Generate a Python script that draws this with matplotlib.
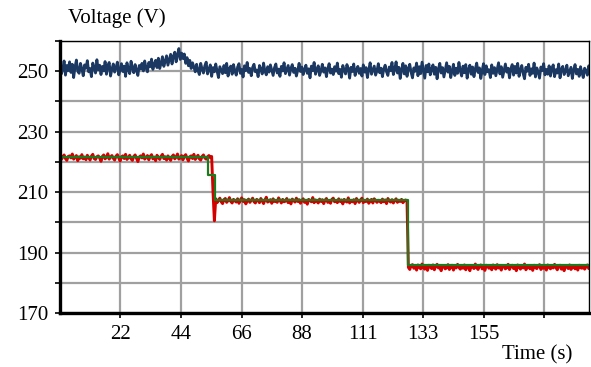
import numpy as np
import matplotlib
matplotlib.use("Agg")
import matplotlib.pyplot as plt

sample_step = 0.5

blue_v = [
    252.8, 249.1, 250.6, 253.4, 248.7, 251.9, 250.2, 253.1, 249.6, 252.3, 247.9, 251.4, 253.7, 250.0, 249.3, 252.6, 250.8, 248.5, 252.1, 251.0,
    253.5, 249.8, 250.9, 248.2, 252.7, 251.3, 249.4, 253.8, 250.5, 252.0, 248.9, 251.6, 250.1, 253.2, 249.0, 251.8, 252.9, 248.4, 250.7, 252.4,
    249.7, 251.2, 253.0, 248.8, 250.4, 252.5, 249.9, 251.7, 248.3, 252.8, 250.6, 249.2, 253.3, 251.1, 249.5, 252.2, 250.3, 248.6, 251.9, 250.8,
    252.6, 250.1, 253.4, 251.0, 249.8, 252.9, 251.5, 254.0, 250.6, 252.3, 253.6, 251.2, 254.3, 250.9, 252.7, 254.8, 251.6, 253.2, 255.1, 252.0,
    253.8, 255.6, 252.4, 254.9, 256.3, 253.1, 255.4, 257.5, 253.9, 256.0, 254.2, 255.7, 252.6, 254.5, 251.8, 253.6, 250.9, 252.8, 251.4, 249.8,
    252.3, 250.2, 248.9, 252.6, 250.7, 249.4, 251.8, 253.0, 249.1, 250.5, 252.1, 248.3, 251.2, 249.8, 252.4, 250.0, 247.9, 251.5, 250.3, 249.2,
    251.9, 249.5, 252.6, 248.4, 250.8, 251.7, 249.0, 252.2, 250.1, 248.7, 251.4, 252.5, 249.3, 250.6, 248.1, 251.8, 250.2, 252.9, 249.6, 250.9,
    248.5, 251.3, 252.3, 249.8, 250.4, 248.2, 251.9, 250.6, 249.1, 252.7, 250.0, 248.8, 251.5, 249.7, 252.1, 250.3, 248.6, 251.2, 252.4, 249.4,
    250.7, 248.3, 251.6, 250.1, 252.8, 249.2, 250.5, 251.9, 248.7, 250.9, 252.2, 249.6, 251.0, 248.4, 250.3, 252.6, 249.9, 251.4, 248.9, 250.6,
    252.0, 249.3, 250.8, 247.8, 251.7, 250.2, 252.9, 249.0, 250.5, 251.8, 248.6, 250.1, 252.3, 249.7, 251.1, 248.2, 250.9, 252.5, 249.4, 250.7,
    248.9, 251.5, 250.0, 252.7, 249.2, 250.6, 248.0, 251.9, 250.4, 249.1, 252.2, 250.8, 247.7, 251.3, 249.9, 252.4, 248.6, 250.5, 251.6, 249.3,
    250.9, 248.4, 252.1, 249.7, 251.2, 247.9, 250.6, 252.8, 249.0, 250.3, 251.7, 248.7, 250.1, 252.5, 249.5, 251.0, 248.2, 250.8, 252.0, 249.8,
    248.6, 251.4, 250.2, 252.9, 248.9, 250.7, 253.1, 249.4, 251.3, 247.6, 250.5, 252.6, 249.1, 251.8, 248.3, 250.9, 252.3, 249.6, 247.8, 251.1,
    250.0, 252.7, 248.5, 251.5, 249.2, 253.0, 250.3, 247.7, 251.9, 249.8, 252.4, 248.8, 250.6, 252.1, 249.0, 251.3, 247.5, 250.8, 252.6, 249.4,
    251.2, 248.1, 250.4, 252.8, 249.7, 251.6, 247.9, 250.2, 252.3, 248.6, 251.0, 249.3, 252.9, 250.1, 248.4, 251.7, 249.5, 252.2, 247.7, 250.6,
    252.0, 249.0, 251.4, 248.2, 250.8, 252.7, 249.6, 251.1, 247.6, 250.3, 252.5, 248.9, 251.8, 249.8, 250.5, 247.9, 252.1, 249.3, 251.2, 248.5,
    250.7, 252.8, 249.1, 251.5, 248.0, 250.2, 252.4, 249.7, 251.0, 247.8, 250.9, 252.2, 248.7, 251.6, 249.4, 252.6, 248.3, 250.4, 251.9, 249.2,
    247.5, 251.3, 250.0, 252.3, 248.6, 250.8, 249.3, 252.7, 248.1, 251.1, 249.8, 247.7, 251.4, 250.2, 252.5, 248.8, 250.6, 249.0, 251.8, 248.4,
    250.9, 252.1, 248.2, 250.5, 249.4, 252.4, 247.8, 250.7, 251.6, 248.9, 250.1, 252.0, 248.5, 249.9, 251.3, 247.6, 250.4, 252.2, 249.1, 250.6,
    248.3, 251.5, 249.6, 247.9, 251.0, 250.2, 248.7, 251.8, 249.4,
]

red_v = [
    221.9, 220.8, 221.6, 222.3, 221.1, 220.5, 221.8, 222.0, 221.3, 222.6, 220.9, 221.5, 222.1, 220.4, 221.7, 221.2, 222.4, 221.0, 221.6, 220.7,
    222.2, 221.4, 220.6, 221.9, 222.5, 221.1, 220.8, 221.7, 222.0, 221.3, 220.2, 221.8, 222.3, 221.0, 221.5, 222.7, 220.9, 221.6, 222.1, 221.2,
    220.6, 221.9, 222.4, 221.3, 220.3, 221.7, 222.0, 221.1, 222.5, 220.8, 221.4, 222.2, 221.0, 220.5, 221.8, 222.3, 221.2, 220.1, 221.6, 222.0,
    221.3, 222.6, 220.9, 221.5, 222.1, 220.7, 221.8, 222.4, 221.0, 221.6, 220.4, 222.2, 221.4, 220.8, 221.9, 222.5, 221.1, 221.7, 220.6, 222.0,
    221.2, 220.5, 221.8, 222.3, 221.0, 221.6, 222.6, 220.9, 221.4, 222.1, 220.7, 221.9, 222.4, 221.2, 220.3, 221.7, 222.0, 221.1, 222.5, 220.8,
    221.5, 222.2, 221.0, 220.6, 221.8, 222.3, 221.3, 220.9, 221.7, 222.1, 221.4, 221.8,
    210.0, 200.5,
    207.8, 206.5, 207.3, 208.0, 206.8, 206.2, 207.5, 207.9, 206.6, 207.2, 208.2, 206.9, 206.4, 207.6, 207.1, 206.7, 207.8, 206.3, 207.4, 208.1,
    206.9, 207.5, 206.1, 207.0, 207.7, 206.6, 207.3, 208.0, 206.8, 206.4, 207.6, 207.2, 206.5, 207.9, 207.1, 206.2, 207.4, 208.3, 206.7, 207.0,
    207.5, 206.3, 207.8, 206.9, 207.2, 206.6, 208.1, 207.3, 206.4, 207.6, 206.8, 207.0, 207.9, 206.5, 207.4, 206.1, 207.7, 207.2, 206.7, 208.0,
    206.9, 207.5, 206.3, 207.1, 207.8, 206.6, 207.3, 206.0, 207.6, 207.2, 206.8, 208.2, 206.5, 207.4, 207.0, 206.4, 207.7, 206.9, 207.5, 206.2,
    207.3, 207.9, 206.6, 207.1, 206.3, 207.6, 208.0, 206.8, 207.2, 206.5, 207.8, 206.9, 207.4, 206.1, 207.6, 207.0, 206.7, 208.1, 206.4, 207.3,
    206.8, 207.5, 206.2, 207.9, 207.1, 206.6, 207.4, 208.0, 206.5, 207.2, 206.9, 207.7, 206.3, 207.0, 207.6, 206.4, 207.8, 207.2, 206.6, 207.3,
    207.0, 206.5, 207.7, 206.8, 207.4, 206.2, 207.9, 207.1, 206.7, 207.5, 206.4, 207.2, 207.8, 206.6, 207.3, 206.9, 207.6, 206.5, 207.1, 207.4,
    206.8,
    185.1, 184.4, 185.7, 186.0, 184.8, 185.5, 184.2, 185.9, 185.2, 184.6, 186.2, 185.0, 184.5, 185.6, 184.1, 185.8, 185.3, 184.7, 185.9, 184.3,
    185.4, 186.1, 184.9, 185.2, 184.0, 185.7, 185.5, 184.6, 185.0, 186.0, 184.4, 185.3, 185.8, 184.2, 185.6, 184.9, 186.1, 185.1, 184.5, 185.4,
    184.8, 185.9, 184.3, 185.6, 185.1, 184.0, 185.7, 185.3, 184.7, 186.2, 185.0, 184.4, 185.5, 185.9, 184.6, 185.2, 184.1, 185.8, 185.4, 184.8,
    185.6, 184.3, 185.9, 185.1, 184.5, 186.0, 184.9, 185.3, 184.2, 185.7, 185.5, 184.6, 185.0, 186.1, 184.4, 185.4, 185.8, 184.7, 185.2, 184.0,
    185.9, 185.3, 184.5, 185.6, 184.9, 186.2, 184.3, 185.1, 185.7, 184.6, 185.4, 184.1, 185.8, 185.0, 184.7, 185.5, 186.0, 184.4, 185.3, 184.8,
    185.6, 184.2, 185.9, 185.2, 184.6, 185.7, 184.9, 186.1, 185.0, 184.3, 185.5, 185.8, 184.5, 185.2, 184.0, 185.6, 185.4, 184.7, 185.9, 184.4,
    185.1, 185.7, 184.6, 185.3, 184.2, 185.8, 185.0, 184.8, 185.6, 184.5, 185.3, 185.9, 184.7, 185.2,
]

green_t = [0, 54.2, 56.7, 127.4, 194]
green_v = [221.6, 215.5, 207.3, 185.8, 185.8]

x_tick_pos = [22.14, 44.29, 66.43, 88.57, 110.71, 132.86, 155.0, 177.14]
x_tick_labels = ["22", "44", "66", "88", "111", "133", "155", ""]
y_major = [170, 190, 210, 230, 250]
y_grid = [180, 190, 200, 210, 220, 230, 240, 250, 260]

blue_t = np.arange(len(blue_v)) * sample_step
red_t = np.arange(len(red_v)) * sample_step

# ---- figure ----
plt.rcParams['font.family'] = ['Liberation Serif', 'DejaVu Serif']
fig = plt.figure(figsize=(5.91, 3.67), dpi=100)
ax = fig.add_axes([60/591, 1-313/367, 529/591, (313-41)/367])

ax.plot(blue_t, blue_v, color='#1a3862', lw=2.0, zorder=3)
ax.plot(red_t, red_v, color='#d40000', lw=2.1, zorder=3)
ax.plot(green_t, green_v, color='#1e7a1e', lw=1.6, drawstyle='steps-post', zorder=4)

ax.set_xlim(0, 193.6)
ax.set_ylim(170, 260)

ax.set_xticks(x_tick_pos)
ax.set_xticklabels(x_tick_labels)
ax.set_yticks(y_major)
ax.set_yticks(y_grid, minor=True)
ax.tick_params(axis='both', which='both', direction='out', length=3.5, width=1.2,
               labelsize=15, color='black')
ax.tick_params(axis='y', pad=5)
ax.tick_params(axis='x', pad=5)

ax.grid(True, which='major', axis='x', color='#a0a0a0', lw=1.6, zorder=1)
ax.grid(True, which='minor', axis='y', color='#a0a0a0', lw=1.6, zorder=1)
ax.grid(True, which='major', axis='y', color='#a0a0a0', lw=1.6, zorder=1)
ax.set_axisbelow(True)

ax.spines['left'].set_linewidth(2.4)
ax.spines['bottom'].set_linewidth(2.4)
ax.spines['top'].set_linewidth(1.0)
ax.spines['right'].set_linewidth(1.0)
for s in ax.spines.values():
    s.set_color('black')
    s.set_zorder(5)

fig.text(117/591, 1-18/367, "Voltage (V)", ha='center', va='center', fontsize=15)
fig.text(537/591, 1-355/367, "Time (s)", ha='center', va='center', fontsize=15)

fig.savefig("out.png", dpi=100)
